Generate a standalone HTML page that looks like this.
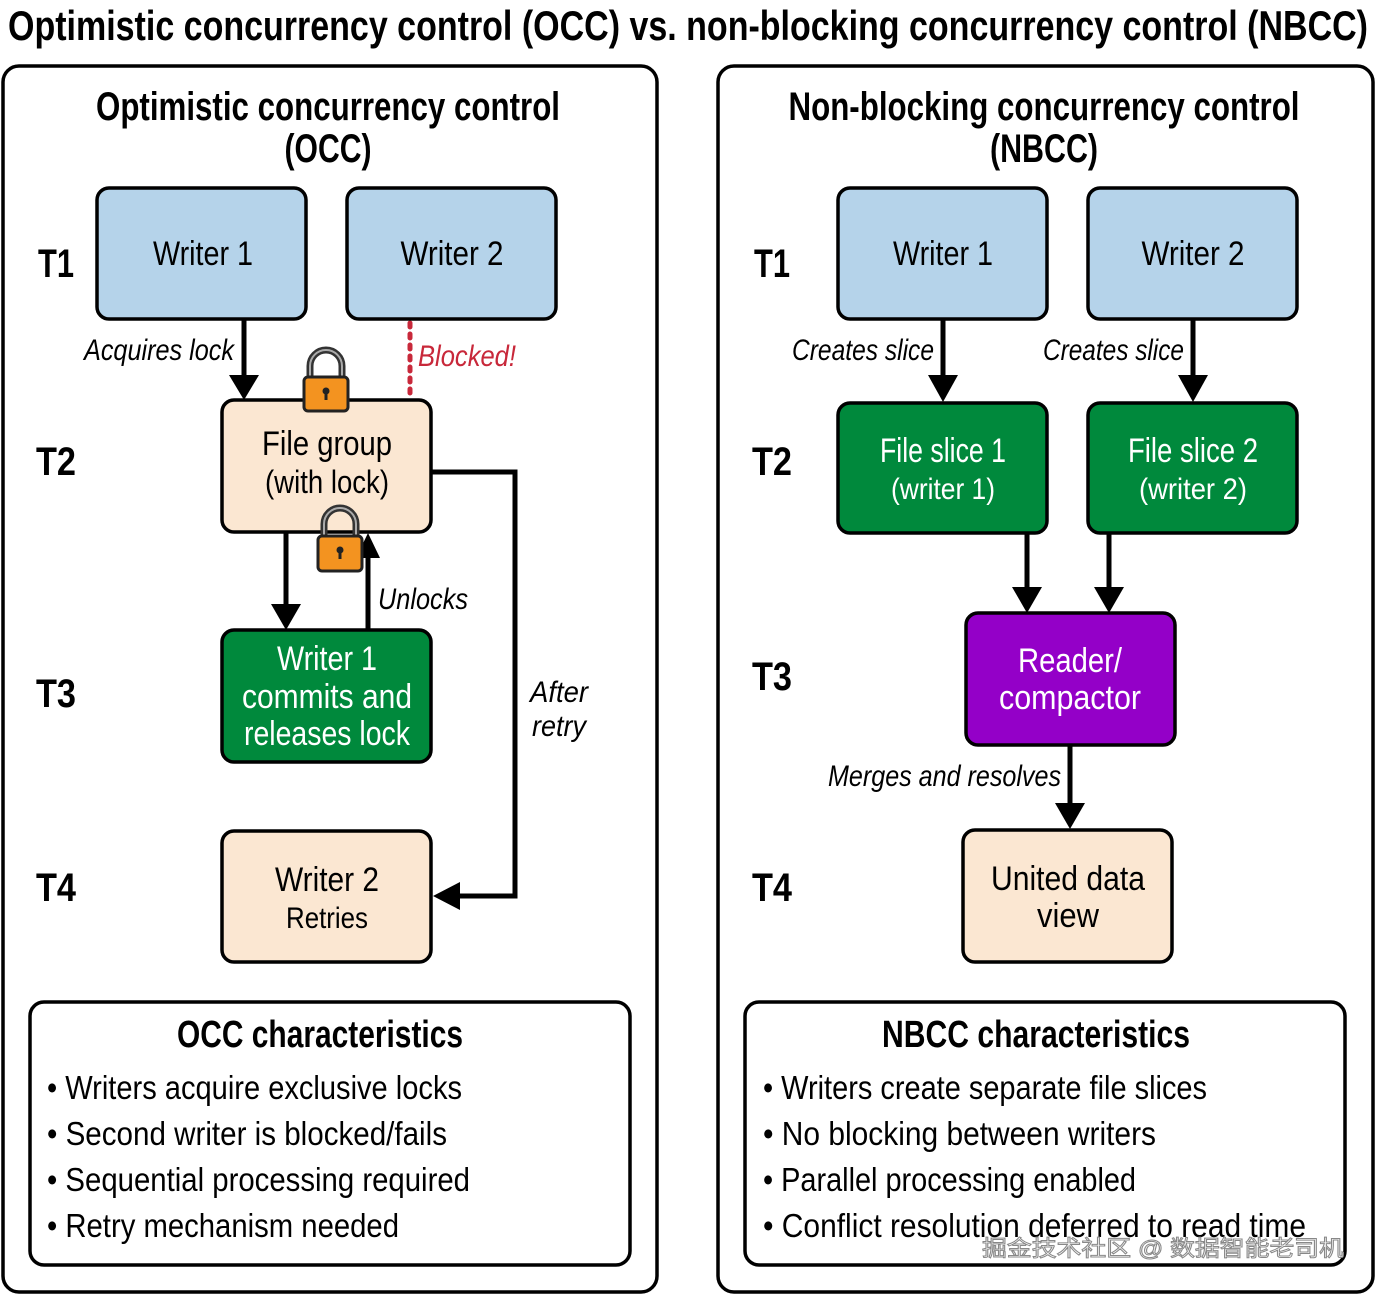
<!DOCTYPE html>
<html><head><meta charset="utf-8"><style>
html,body{margin:0;padding:0;background:#fff}
svg{display:block}
text{font-family:"Liberation Sans",sans-serif}
</style></head><body>
<svg width="1376" height="1295" viewBox="0 0 1376 1295" xmlns="http://www.w3.org/2000/svg">
<text x="8" y="40" font-size="42" font-weight="bold" textLength="1360" lengthAdjust="spacingAndGlyphs">Optimistic concurrency control (OCC) vs. non-blocking concurrency control (NBCC)</text>
<g fill="none" stroke="#000" stroke-width="3.5">
<rect x="3" y="66" width="654" height="1226" rx="16"/>
<rect x="718" y="66" width="655" height="1226" rx="16"/>
<rect x="30" y="1002" width="600" height="263" rx="14"/>
<rect x="745" y="1002" width="600" height="263" rx="14"/>
</g>
<g font-size="40" text-anchor="middle" font-weight="bold">
<text x="328" y="120" textLength="464" lengthAdjust="spacingAndGlyphs">Optimistic concurrency control</text>
<text x="328" y="162" textLength="87" lengthAdjust="spacingAndGlyphs">(OCC)</text>
<text x="1044" y="120" textLength="511" lengthAdjust="spacingAndGlyphs">Non-blocking concurrency control</text>
<text x="1044" y="162" textLength="108" lengthAdjust="spacingAndGlyphs">(NBCC)</text>
</g>
<g font-size="40" font-weight="bold">
<text x="38" y="277" textLength="36" lengthAdjust="spacingAndGlyphs">T1</text>
<text x="36" y="475" textLength="40" lengthAdjust="spacingAndGlyphs">T2</text>
<text x="36" y="707" textLength="40" lengthAdjust="spacingAndGlyphs">T3</text>
<text x="36" y="901" textLength="40" lengthAdjust="spacingAndGlyphs">T4</text>
<text x="754" y="277" textLength="36" lengthAdjust="spacingAndGlyphs">T1</text>
<text x="752" y="475" textLength="40" lengthAdjust="spacingAndGlyphs">T2</text>
<text x="752" y="690" textLength="40" lengthAdjust="spacingAndGlyphs">T3</text>
<text x="752" y="901" textLength="40" lengthAdjust="spacingAndGlyphs">T4</text>
</g>
<g stroke="#000" stroke-width="5" fill="none">
<line x1="244" y1="320" x2="244" y2="378"/>
<line x1="286" y1="533" x2="286" y2="606"/>
<line x1="368" y1="630" x2="368" y2="556"/>
<polyline points="432,472 515,472 515,896 458,896"/>
<line x1="943" y1="320" x2="943" y2="378"/>
<line x1="1193" y1="320" x2="1193" y2="378"/>
<line x1="1027" y1="534" x2="1027" y2="590"/>
<line x1="1109" y1="534" x2="1109" y2="590"/>
<line x1="1070" y1="746" x2="1070" y2="806"/>
</g>
<g fill="#000">
<path d="M229,375 L259,375 L244,400 z"/>
<path d="M271,604 L301,604 L286,630 z"/>
<path d="M356,558 L380,558 L368,533 z"/>
<path d="M460,882 L460,910 L433,896 z"/>
<path d="M928,375 L958,375 L943,402 z"/>
<path d="M1178,375 L1208,375 L1193,402 z"/>
<path d="M1012,587 L1042,587 L1027,613 z"/>
<path d="M1094,587 L1124,587 L1109,613 z"/>
<path d="M1055,803 L1085,803 L1070,829 z"/>
</g>
<line x1="410" y1="323" x2="410" y2="398" stroke="#c8283a" stroke-width="5" stroke-dasharray="4,7" stroke-linecap="round"/>
<g stroke="#000" stroke-width="3.5">
<rect x="97" y="188" width="209" height="131" rx="12" fill="#b5d3ea"/>
<rect x="347" y="188" width="209" height="131" rx="12" fill="#b5d3ea"/>
<rect x="222" y="400" width="209" height="132" rx="12" fill="#fbe7d2"/>
<rect x="222" y="630" width="209" height="132" rx="12" fill="#00893c"/>
<rect x="222" y="831" width="209" height="131" rx="12" fill="#fbe7d2"/>
<rect x="838" y="188" width="209" height="131" rx="12" fill="#b5d3ea"/>
<rect x="1088" y="188" width="209" height="131" rx="12" fill="#b5d3ea"/>
<rect x="838" y="403" width="209" height="130" rx="12" fill="#00893c"/>
<rect x="1088" y="403" width="209" height="130" rx="12" fill="#00893c"/>
<rect x="966" y="613" width="209" height="132" rx="12" fill="#9400c8"/>
<rect x="963" y="830" width="209" height="132" rx="12" fill="#fbe7d2"/>
</g>
<g stroke="#222" stroke-width="3">
<path d="M310,380 L310,366 A16,16 0 0 1 342,366 L342,380" fill="none" stroke="#333" stroke-width="7"/>
<path d="M310,380 L310,366 A16,16 0 0 1 342,366 L342,380" fill="none" stroke="#aaa" stroke-width="2"/>
<rect x="304" y="377" width="44" height="34" rx="4" fill="#f39320"/>
<path d="M324,537 L324,524 A16,16 0 0 1 356,524 L356,540" fill="none" stroke="#333" stroke-width="7"/>
<path d="M324,537 L324,524 A16,16 0 0 1 356,524 L356,540" fill="none" stroke="#aaa" stroke-width="2"/>
<rect x="318" y="536" width="44" height="35" rx="4" fill="#f39320"/>
</g>
<g fill="#222"><circle cx="326" cy="391" r="3.5"/><rect x="324.5" y="391" width="3" height="9"/><circle cx="340" cy="550" r="3.5"/><rect x="338.5" y="550" width="3" height="9"/></g>
<g font-size="34" text-anchor="middle">
<text x="203" y="265" textLength="100" lengthAdjust="spacingAndGlyphs">Writer 1</text>
<text x="452" y="265" textLength="103" lengthAdjust="spacingAndGlyphs">Writer 2</text>
<text x="327" y="455" textLength="130" lengthAdjust="spacingAndGlyphs">File group</text>
<text x="327" y="493" textLength="124" lengthAdjust="spacingAndGlyphs" font-size="32">(with lock)</text>
<text x="327" y="891" textLength="104" lengthAdjust="spacingAndGlyphs">Writer 2</text>
<text x="327" y="928" textLength="82" lengthAdjust="spacingAndGlyphs" font-size="30">Retries</text>
<text x="943" y="265" textLength="100" lengthAdjust="spacingAndGlyphs">Writer 1</text>
<text x="1193" y="265" textLength="103" lengthAdjust="spacingAndGlyphs">Writer 2</text>
<text x="1068" y="890" textLength="154" lengthAdjust="spacingAndGlyphs">United data</text>
<text x="1068" y="927" textLength="62" lengthAdjust="spacingAndGlyphs">view</text>
</g>
<g font-size="34" text-anchor="middle" fill="#fff">
<text x="327" y="670" textLength="100" lengthAdjust="spacingAndGlyphs">Writer 1</text>
<text x="327" y="708" textLength="170" lengthAdjust="spacingAndGlyphs">commits and</text>
<text x="327" y="745" textLength="166" lengthAdjust="spacingAndGlyphs">releases lock</text>
<text x="943" y="462" textLength="126" lengthAdjust="spacingAndGlyphs">File slice 1</text>
<text x="943" y="499" textLength="104" lengthAdjust="spacingAndGlyphs" font-size="30">(writer 1)</text>
<text x="1193" y="462" textLength="130" lengthAdjust="spacingAndGlyphs">File slice 2</text>
<text x="1193" y="499" textLength="108" lengthAdjust="spacingAndGlyphs" font-size="30">(writer 2)</text>
<text x="1070" y="672" textLength="104" lengthAdjust="spacingAndGlyphs">Reader/</text>
<text x="1070" y="709" textLength="142" lengthAdjust="spacingAndGlyphs">compactor</text>
</g>
<g font-size="30" font-style="italic">
<text x="84" y="360" textLength="150" lengthAdjust="spacingAndGlyphs">Acquires lock</text>
<text x="418" y="366" textLength="98" lengthAdjust="spacingAndGlyphs" fill="#c8283a">Blocked!</text>
<text x="378" y="609" textLength="90" lengthAdjust="spacingAndGlyphs">Unlocks</text>
<text x="530" y="702" textLength="58" lengthAdjust="spacingAndGlyphs">After</text>
<text x="532" y="736" textLength="54" lengthAdjust="spacingAndGlyphs">retry</text>
<text x="792" y="360" textLength="142" lengthAdjust="spacingAndGlyphs">Creates slice</text>
<text x="1043" y="360" textLength="141" lengthAdjust="spacingAndGlyphs">Creates slice</text>
<text x="828" y="786" textLength="233" lengthAdjust="spacingAndGlyphs">Merges and resolves</text>
</g>
<g font-size="38" text-anchor="middle" font-weight="bold">
<text x="320" y="1047" textLength="286" lengthAdjust="spacingAndGlyphs">OCC characteristics</text>
<text x="1036" y="1047" textLength="308" lengthAdjust="spacingAndGlyphs">NBCC characteristics</text>
</g>
<g font-size="33">
<text x="47" y="1099" textLength="415" lengthAdjust="spacingAndGlyphs">• Writers acquire exclusive locks</text>
<text x="47" y="1145" textLength="400" lengthAdjust="spacingAndGlyphs">• Second writer is blocked/fails</text>
<text x="47" y="1191" textLength="423" lengthAdjust="spacingAndGlyphs">• Sequential processing required</text>
<text x="47" y="1237" textLength="352" lengthAdjust="spacingAndGlyphs">• Retry mechanism needed</text>
<text x="763" y="1099" textLength="444" lengthAdjust="spacingAndGlyphs">• Writers create separate file slices</text>
<text x="763" y="1145" textLength="393" lengthAdjust="spacingAndGlyphs">• No blocking between writers</text>
<text x="763" y="1191" textLength="373" lengthAdjust="spacingAndGlyphs">• Parallel processing enabled</text>
<text x="763" y="1237" textLength="543" lengthAdjust="spacingAndGlyphs">• Conflict resolution deferred to read time</text>
</g>
<text x="982" y="1256" font-size="22" fill="#fff" stroke="#888" stroke-width="1" font-family="'Liberation Sans','Noto Sans CJK SC',sans-serif" textLength="362" lengthAdjust="spacingAndGlyphs">掘金技术社区 @ 数据智能老司机</text>
</svg>
</body></html>
